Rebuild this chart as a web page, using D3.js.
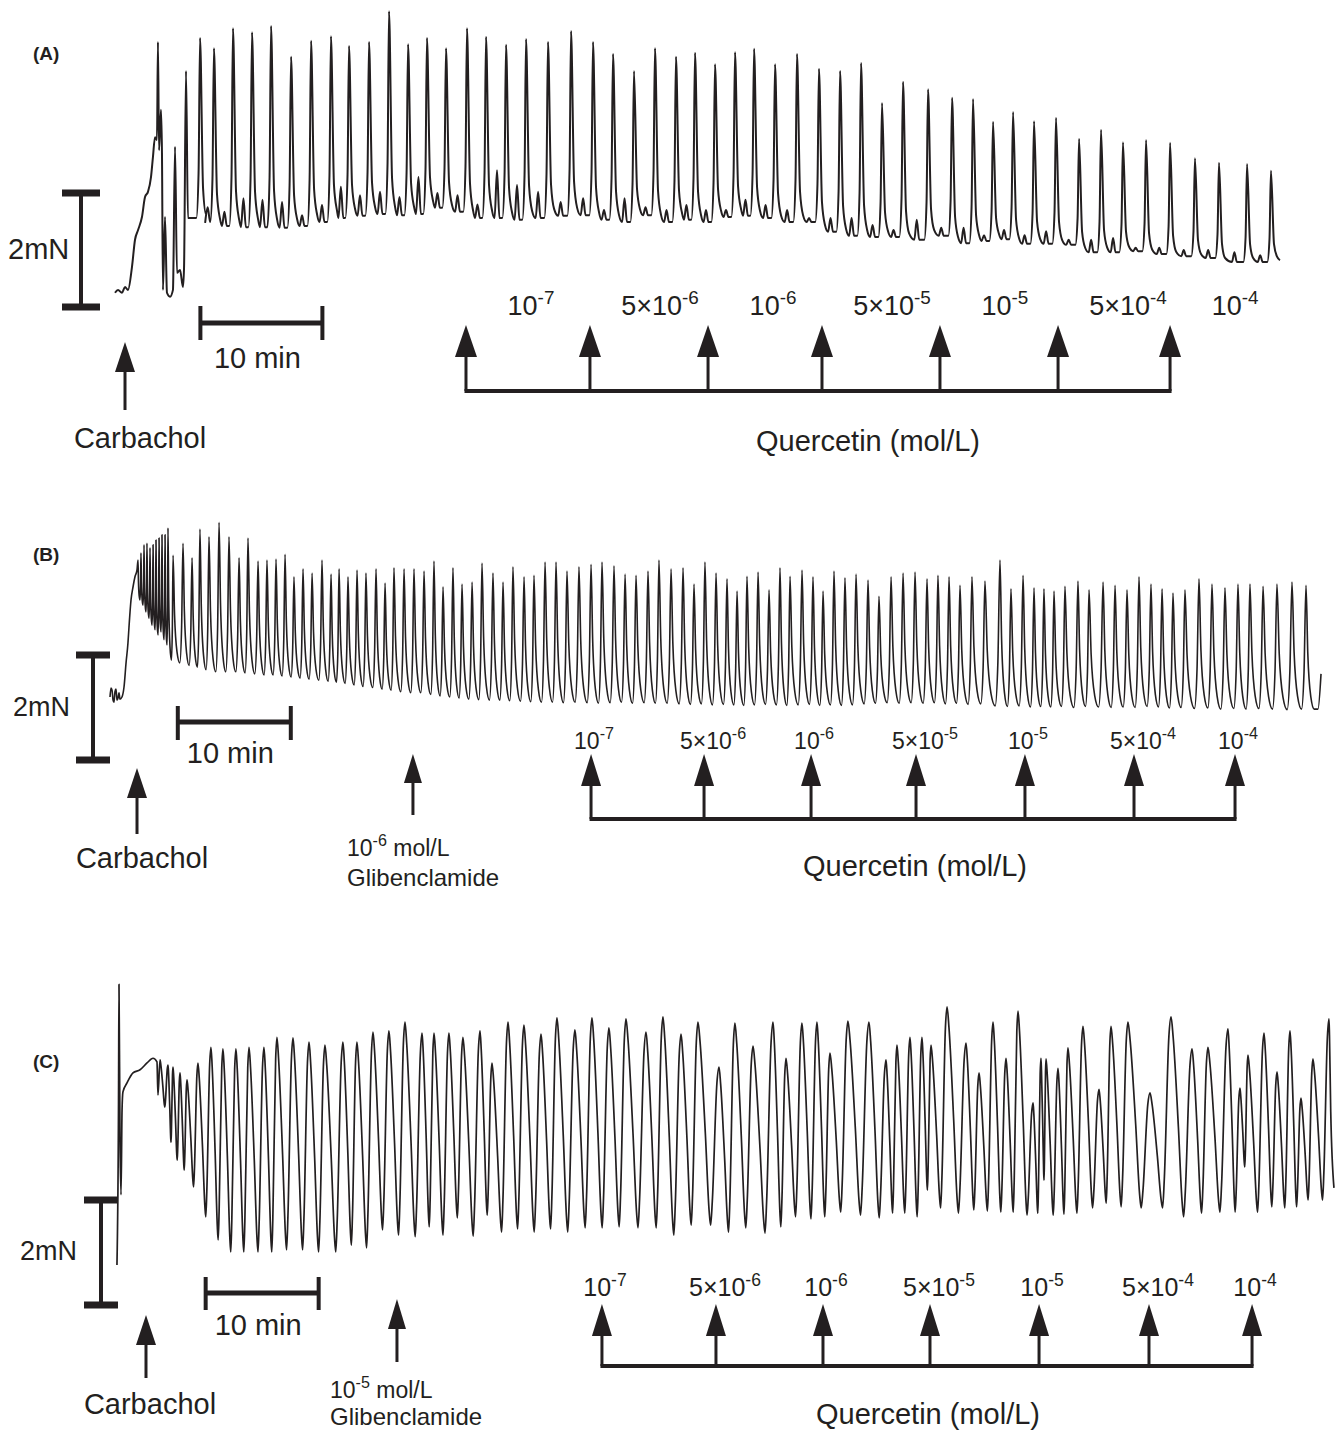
<!DOCTYPE html>
<html>
<head>
<meta charset="utf-8">
<title>Quercetin tension recordings</title>
<script src="https://cdn.jsdelivr.net/npm/d3@7"></script>
<style>
  body { margin: 0; background: #fff; }
  svg text { font-family: "Liberation Sans", Arial, Helvetica, sans-serif; fill: #231f20; white-space: pre; }
</style>
</head>
<body>
<svg id="fig" width="1339" height="1433"></svg>
<script>
// time in min, force in mN measured from the foot of each 2 mN bar

const PANEL_NAMES = ['(A)', '(B)', '(C)'];
const QUERCETIN_LABELS = [['10', '-7'], ['5×10', '-6'], ['10', '-6'], ['5×10', '-5'], ['10', '-5'], ['5×10', '-4'], ['10', '-4']];
const CARBACHOL_T = [0.82, 2.39, 2.92];
const GLIBENCLAMIDE_T = [null, 26.81, 25.13];
const GLIBENCLAMIDE_EXP = [null, '-6', '-5'];
const QUER_A = [28.77, 38.93, 48.61, 57.95, 67.62, 77.30, 86.48];
const QUER_B = [42.57, 52.57, 62.04, 71.33, 80.97, 90.62, 99.56];
const QUER_C = [43.27, 53.36, 62.83, 72.30, 81.95, 91.68, 100.80];

// (A) carbachol alone
const A_ONSET = [[0, 0.25], [0.25, 0.30], [0.57, 0.25], [0.82, 0.35], [1.07, 0.30], [1.39, 0.70], [1.64, 1.18], [1.89, 1.35],
  [2.21, 1.58], [2.46, 1.93], [2.70, 2.02], [2.95, 2.28], [3.11, 2.63], [3.28, 2.98], [3.44, 2.93], [3.52, 4.65], [3.61, 2.75],
  [3.77, 3.46], [3.85, 2.70], [3.93, 0.30], [4.10, 1.58], [4.26, 0.25], [4.51, 0.18], [4.75, 0.30], [4.92, 2.81], [5.08, 0.60],
  [5.33, 0.65], [5.57, 0.35], [5.66, 0.70], [5.82, 4.14], [5.98, 1.56], [6.31, 1.56], [6.67, 1.56], [6.85, 2.35]];
const A_T = [6.97, 8.11, 9.67, 11.23, 12.79, 14.43, 16.07, 17.70, 19.18, 20.82, 22.46, 24.02, 25.57, 27.13, 28.85, 30.41,
  32.05, 33.69, 35.49, 37.38, 39.18, 40.82, 42.54, 44.26, 45.98, 47.54, 49.18, 50.82, 52.38, 54.10, 55.90, 57.70, 59.43,
  61.15, 62.87, 64.59, 66.64, 68.61, 70.33, 71.97, 73.61, 75.33, 77.13, 79.02, 80.82, 82.62, 84.51, 86.48, 88.52, 90.49,
  92.79, 94.75];
const A_PEAK = [4.72, 4.54, 4.89, 4.82, 4.93, 4.39, 4.67, 4.75, 4.58, 4.65, 5.19, 4.61, 4.72, 4.54, 4.89, 4.74, 4.60, 4.70,
  4.65, 4.84, 4.65, 4.44, 4.14, 4.54, 4.39, 4.46, 4.26, 4.47, 4.53, 4.26, 4.44, 4.18, 4.14, 4.28, 3.58, 3.95, 3.82, 3.67,
  3.65, 3.25, 3.42, 3.26, 3.32, 2.95, 3.11, 2.89, 2.93, 2.88, 2.61, 2.53, 2.51, 2.39];
const A_TROUGH = [1.49, 1.42, 1.40, 1.40, 1.39, 1.42, 1.49, 1.56, 1.60, 1.63, 1.61, 1.63, 1.74, 1.67, 1.56, 1.56, 1.53,
  1.56, 1.60, 1.61, 1.53, 1.49, 1.61, 1.49, 1.53, 1.49, 1.58, 1.60, 1.56, 1.49, 1.49, 1.32, 1.25, 1.23, 1.23, 1.18, 1.25,
  1.12, 1.16, 1.19, 1.11, 1.11, 1.09, 0.96, 0.96, 0.98, 0.93, 0.89, 0.86, 0.79, 0.79];
const A_BUMP = [1.75, 1.67, 1.91, 1.88, 1.84, 1.61, 1.79, 2.11, 1.96, 2.02, 1.93, 2.28, 2.00, 1.96, 1.80, 2.40, 2.14, 2.02,
  1.84, 1.91, 1.70, 1.91, 1.75, 1.70, 1.79, 1.70, 1.70, 1.88, 1.79, 1.70, 1.56, 1.56, 1.56, 1.44, 1.35, 1.53, 1.39, 1.39,
  1.26, 1.35, 1.26, 1.33, 1.18, 1.18, 1.21, 1.04, 1.04, 1.00, 1.00, 0.96, 0.91];
const A_TAIL = [[95.49, 0.82]];

// (B) glibenclamide 1 µmol/L
const B_ONSET = [[0, 1.20], [0.09, 1.37], [0.18, 1.33], [0.27, 1.14], [0.35, 1.10], [0.44, 1.30], [0.53, 1.35], [0.62, 1.14],
  [0.71, 1.18], [0.80, 1.28], [0.88, 1.16], [1.06, 1.20], [1.24, 1.39], [1.42, 1.85], [1.59, 2.23], [1.68, 2.53],
  [1.86, 3.05], [2.04, 3.30], [2.21, 3.49], [2.39, 3.62]];
const B_T = [2.48, 2.74, 3.01, 3.27, 3.54, 3.81, 4.07, 4.34, 4.60, 4.87,
  5.13, 5.58, 6.46, 7.26, 7.96, 8.76, 9.65, 10.53, 11.42, 12.21, 13.10, 13.89, 14.69, 15.49, 16.28, 17.08, 17.88, 18.76,
  19.56, 20.27, 21.06, 21.86, 22.65, 23.54, 24.34, 25.13, 26.02, 26.90, 27.79, 28.67, 29.47, 30.35, 31.15, 32.04, 32.92,
  33.89, 34.78, 35.66, 36.64, 37.52, 38.50, 39.47, 40.44, 41.50, 42.57, 43.54, 44.60, 45.58, 46.55, 47.61, 48.58, 49.65,
  50.71, 51.68, 52.65, 53.63, 54.60, 55.49, 56.37, 57.35, 58.32, 59.29, 60.18, 61.24, 62.21, 63.10, 64.07, 65.04, 66.02,
  67.08, 68.05, 69.12, 70.18, 71.24, 72.30, 73.27, 74.25, 75.22, 76.28, 77.43, 78.76, 79.73, 80.80, 81.77, 82.65, 83.54,
  84.51, 85.66, 86.64, 87.88, 88.94, 90.00, 91.06, 92.12, 93.10, 94.07, 95.13, 96.37, 97.52, 98.67, 99.82, 100.88,
  102.04, 103.27, 104.60, 105.84];
const B_PEAK = [3.81, 3.94, 4.10, 4.13, 4.04, 4.10, 4.19, 4.23, 4.29, 4.29,
  4.42, 3.90, 4.13, 3.85, 4.40, 4.25, 4.53, 4.25, 3.85, 4.23, 3.79, 3.81, 3.83, 3.92, 3.49, 3.64, 3.56, 3.81, 3.54, 3.64,
  3.49, 3.62, 3.56, 3.64, 3.37, 3.66, 3.64, 3.64, 3.60, 3.79, 3.30, 3.66, 3.35, 3.39, 3.75, 3.56, 3.39, 3.68, 3.49, 3.52,
  3.77, 3.77, 3.60, 3.68, 3.73, 3.77, 3.70, 3.54, 3.52, 3.60, 3.81, 3.64, 3.66, 3.35, 3.77, 3.56, 3.45, 3.22, 3.50, 3.58,
  3.24, 3.66, 3.50, 3.62, 3.49, 3.22, 3.60, 3.47, 3.54, 3.43, 3.12, 3.49, 3.56, 3.58, 3.45, 3.52, 3.49, 3.33, 3.49, 3.41,
  3.81, 3.26, 3.52, 3.28, 3.26, 3.22, 3.31, 3.41, 3.24, 3.39, 3.33, 3.24, 3.49, 3.35, 3.26, 3.18, 3.24, 3.45, 3.35, 3.28,
  3.35, 3.35, 3.31, 3.35, 3.39, 3.33];
const B_TROUGH = [3.05, 2.95, 2.82, 2.70, 2.57, 2.48, 2.38, 2.44, 2.29, 2.19,
  1.90, 1.85, 1.80, 1.77, 1.72, 1.68, 1.68, 1.68, 1.66, 1.64, 1.62, 1.62, 1.60, 1.58, 1.56, 1.54, 1.52, 1.50, 1.48, 1.46,
  1.43, 1.40, 1.38, 1.35, 1.33, 1.30, 1.28, 1.28, 1.25, 1.22, 1.20, 1.18, 1.16, 1.15, 1.14, 1.14, 1.13, 1.12, 1.11, 1.10,
  1.10, 1.09, 1.10, 1.09, 1.08, 1.09, 1.10, 1.08, 1.09, 1.08, 1.08, 1.07, 1.06, 1.07, 1.05, 1.06, 1.05, 1.04, 1.05, 1.06,
  1.05, 1.04, 1.05, 1.06, 1.04, 1.05, 1.04, 1.05, 1.07, 1.08, 1.09, 1.08, 1.09, 1.08, 1.09, 1.07, 1.08, 1.06, 1.07, 1.03,
  1.02, 1.03, 1.01, 1.02, 1.01, 1.02, 1.00, 1.02, 1.01, 1.00, 1.01, 1.00, 1.02, 1.01, 0.99, 1.00, 0.98, 0.99, 0.97, 0.98,
  0.97, 0.98, 0.97, 0.96, 0.97];
const B_TAIL = [[106.90, 0.97], [107.17, 1.64]];

// (C) glibenclamide 10 µmol/L
const C_ONSET = [[0.35, 0.76], [0.49, 3.90], [0.53, 6.11], [0.62, 3.14], [0.71, 2.10], [0.80, 3.71], [0.88, 4.06],
  [1.24, 4.23], [1.77, 4.42], [2.39, 4.48], [3.01, 4.61], [3.54, 4.70], [3.89, 4.63], [3.98, 4.00]];
const C_T = [4.16, 4.87, 5.31, 5.93, 6.55, 7.52, 8.67, 9.73, 10.88, 12.04, 13.36, 14.51, 15.93, 17.35, 18.76, 20.35, 21.59,
  23.01, 24.42, 25.84, 27.35, 28.41, 29.73, 30.97, 32.48, 33.54, 34.96, 36.37, 37.88, 39.29, 40.88, 42.39, 43.89, 45.40,
  47.17, 48.67, 50.27, 51.77, 53.63, 55.04, 56.64, 58.41, 59.56, 60.97, 62.30, 63.45, 65.04, 66.90, 68.41, 69.38, 70.53,
  71.59, 72.39, 73.81, 75.49, 76.64, 77.88, 79.03, 80.09, 81.42, 82.12, 82.57, 83.63, 84.51, 85.84, 87.26, 88.32, 89.82,
  91.77, 93.63, 95.49, 96.90, 98.67, 99.73, 100.44, 101.86, 103.01, 104.16, 105.13, 106.19, 107.61];
const C_PEAK = [4.67, 4.57, 4.53, 4.42, 4.29, 4.61, 4.91, 4.88, 4.88, 4.91, 4.91, 5.10, 5.09, 5.01, 4.95, 5.01, 5.01, 5.20,
  5.22, 5.39, 5.18, 5.18, 5.18, 5.10, 5.22, 4.61, 5.39, 5.33, 5.16, 5.47, 5.24, 5.47, 5.28, 5.45, 5.20, 5.49, 5.16, 5.39,
  4.53, 5.37, 4.93, 5.39, 4.70, 5.37, 5.39, 4.80, 5.41, 5.39, 4.67, 4.95, 5.10, 5.10, 4.95, 5.68, 4.99, 4.42, 5.39, 4.70,
  5.60, 3.85, 4.70, 4.69, 4.51, 4.90, 5.31, 4.11, 5.31, 5.39, 4.04, 5.49, 4.88, 4.91, 5.26, 4.13, 4.76, 5.18, 4.44, 5.22,
  3.94, 4.69, 5.45];
const C_TROUGH = [3.77, 3.10, 2.76, 2.57, 2.25, 1.68, 1.24, 1.01, 1.01, 1.01, 1.01, 1.05, 1.05, 1.01, 1.01, 1.14, 1.09,
  1.43, 1.33, 1.30, 1.49, 1.33, 1.66, 1.31, 1.71, 1.39, 1.45, 1.39, 1.45, 1.39, 1.47, 1.47, 1.49, 1.47, 1.47, 1.33, 1.52,
  1.52, 1.39, 1.47, 1.37, 1.49, 1.68, 1.64, 1.68, 1.77, 1.71, 1.66, 1.75, 1.75, 1.68, 2.19, 1.85, 1.75, 1.81, 1.79, 1.77,
  1.77, 1.71, 1.75, 2.38, 1.71, 1.73, 1.75, 1.85, 1.94, 1.87, 1.85, 1.85, 1.68, 1.75, 1.77, 1.77, 2.63, 1.77, 1.87, 1.85,
  1.87, 2.00, 2.00];
const C_TAIL = [[108.05, 2.23]];

const INK = '#231f20';
const svg = d3.select('#fig');
svg.append('rect').attr('width', 1339).attr('height', 1433).attr('fill', '#fff');

// waveform outline of one contraction, from peak i down to the trough and up toward peak i+1
const shapes = {
  spike(pts, t, p, tn, nb, pn, bump, last) {
    const amp = p - nb;
    pts.push([t + 0.25, nb + 0.18 * amp]);
    pts.push([t + 0.5, nb + 0.04 * amp]);
    if (last) return;
    if (bump != null) {
      const tm = t + 0.55 * (tn - t);
      pts.push([tm - 0.2, nb], [tm, bump], [tm + 0.2, nb]);
    }
    pts.push([tn - 0.3, nb]);
    pts.push([tn - 0.12, nb + 0.25 * (pn - nb)]);
  },
  phasic(pts, t, p, tn, nb, pn, bump, last) {
    const d = tn - t, amp = p - nb;
    pts.push([t + 0.15 * d, nb + 0.45 * amp]);
    pts.push([t + 0.4 * d, nb + 0.1 * amp]);
    pts.push([t + 0.68 * d, nb]);
    if (last) return;
    pts.push([t + 0.86 * d, nb + 0.3 * (pn - nb)]);
  },
  wave(pts, t, p, tn, nb, pn, bump, last) {
    const d = tn - t, amp = p - nb;
    pts.push([t + 0.1 * d, p - 0.1 * amp]);
    pts.push([t + 0.35 * d, nb + 0.45 * amp]);
    if (last) return;
    pts.push([t + 0.53 * d, nb + 0.07 * amp]);
    pts.push([t + 0.6 * d, nb]);
    const ampN = pn - nb;
    pts.push([t + 0.68 * d, nb + 0.15 * ampN]);
    pts.push([t + 0.9 * d, pn - 0.1 * ampN]);
  }
};

function buildTrace(tr) {
  const pts = tr.onset.map(d => d.slice());
  const n = tr.times.length;
  tr.times.forEach((t, i) => {
    const last = i === n - 1;
    pts.push([t, tr.peaks[i]]);
    tr.shape(pts, t, tr.peaks[i],
      last ? tr.tail[0][0] : tr.times[i + 1],
      last ? tr.tail[0][1] : tr.troughs[i],
      last ? null : tr.peaks[i + 1],
      tr.bumps ? tr.bumps[i] : null, last);
  });
  tr.tail.forEach(d => pts.push(d.slice()));
  return pts;
}

function arrow(g, x, tip, base, bottom, w, sw) {
  g.append('path')
    .attr('d', `M${x},${tip}L${x + w / 2},${base}L${x - w / 2},${base}Z`)
    .attr('fill', INK);
  g.append('line')
    .attr('x1', x).attr('x2', x)
    .attr('y1', base - 1).attr('y2', bottom)
    .attr('stroke', INK).attr('stroke-width', sw);
}

function powerText(g, x, y, base, exp, size, anchor) {
  const t = g.append('text').attr('x', x).attr('y', y)
    .attr('text-anchor', anchor || 'middle').style('font-size', size + 'px');
  t.append('tspan').text(base);
  t.append('tspan').attr('dy', -size * 0.42).style('font-size', (size * 0.7) + 'px').text(exp);
  return t;
}

const panels = [
  {
    x: d3.scaleLinear().domain([0, 100]).range([115, 115 + 1220]),
    y: d3.scaleLinear().domain([0, 2]).range([307, 193]),
    trace: { onset: A_ONSET, times: A_T, peaks: A_PEAK, troughs: A_TROUGH, bumps: A_BUMP, tail: A_TAIL, shape: shapes.spike, width: 2 },
    nameY: 60,
    bar: { x: 81, half: 19, textX: 8, textY: 259, size: 29 },
    minBar: { t0: 7, y: 323, top: 306, bottom: 340, textY: 368 },
    carb: { tip: 342, base: 372, bottom: 410, dx: 15, textY: 448 },
    quer: { times: QUER_A, tip: 325, base: 357, line: 391, w: 22, labelY: 315, size: 27, dx: lab => lab[0].length > 2 ? 70 : 65, titleX: 868, titleY: 451 }
  },
  {
    x: d3.scaleLinear().domain([0, 100]).range([110, 110 + 1130]),
    y: d3.scaleLinear().domain([0, 2]).range([760, 655]),
    trace: { onset: B_ONSET, times: B_T, peaks: B_PEAK, troughs: B_TROUGH, tail: B_TAIL, shape: shapes.phasic, width: 1.6 },
    nameY: 561,
    bar: { x: 93, half: 17, textX: 13, textY: 716, size: 27 },
    minBar: { t0: 6, y: 722, top: 706, bottom: 740, textY: 763 },
    carb: { tip: 768, base: 798, bottom: 834, dx: 5, textY: 868 },
    glib: { tip: 754, base: 783, bottom: 815, textX: 347, y1: 856, y2: 886 },
    quer: { times: QUER_B, tip: 754, base: 786, line: 819, w: 20, labelY: 749, size: 23, dx: lab => lab[0].length > 2 ? 9 : 3, titleX: 915, titleY: 876 }
  },
  {
    x: d3.scaleLinear().domain([0, 100]).range([113, 113 + 1130]),
    y: d3.scaleLinear().domain([0, 2]).range([1305, 1200]),
    trace: { onset: C_ONSET, times: C_T, peaks: C_PEAK, troughs: C_TROUGH, tail: C_TAIL, shape: shapes.wave, width: 1.7 },
    nameY: 1068,
    bar: { x: 101, half: 17, textX: 20, textY: 1260, size: 27 },
    minBar: { t0: 8.2, y: 1293, top: 1277, bottom: 1310, textY: 1335 },
    carb: { tip: 1315, base: 1345, bottom: 1378, dx: 4, textY: 1414 },
    glib: { tip: 1299, base: 1329, bottom: 1362, textX: 330, y1: 1398, y2: 1425 },
    quer: { times: QUER_C, tip: 1304, base: 1336, line: 1366, w: 20, labelY: 1296, size: 25, dx: lab => lab[0].length > 2 ? 9 : 3, titleX: 928, titleY: 1424 }
  }
];

panels.forEach((P, k) => {
  const g = svg.append('g').attr('class', 'panel');
  const x = P.x, y = P.y;

  g.append('text').attr('x', 33).attr('y', P.nameY)
    .style('font-size', '19px').style('font-weight', 'bold').text(PANEL_NAMES[k]);

  // 2 mN calibration
  const b = P.bar;
  g.append('line').attr('x1', b.x).attr('x2', b.x).attr('y1', y(0)).attr('y2', y(2))
    .attr('stroke', INK).attr('stroke-width', 4);
  [0, 2].forEach(v => {
    g.append('line').attr('x1', b.x - b.half).attr('x2', b.x + b.half).attr('y1', y(v)).attr('y2', y(v))
      .attr('stroke', INK).attr('stroke-width', 7);
  });
  g.append('text').attr('x', b.textX).attr('y', b.textY).style('font-size', b.size + 'px').text('2mN');

  // 10 min calibration
  const m = P.minBar;
  const m0 = x(m.t0), m1 = x(m.t0 + 10);
  g.append('line').attr('x1', m0).attr('x2', m1).attr('y1', m.y).attr('y2', m.y)
    .attr('stroke', INK).attr('stroke-width', 5);
  [m0, m1].forEach(xx => {
    g.append('line').attr('x1', xx).attr('x2', xx).attr('y1', m.top).attr('y2', m.bottom)
      .attr('stroke', INK).attr('stroke-width', 4);
  });
  g.append('text').attr('x', (m0 + m1) / 2 - 4).attr('y', m.textY)
    .attr('text-anchor', 'middle').style('font-size', '29px').text('10 min');

  // carbachol
  const c = P.carb, cx = x(CARBACHOL_T[k]);
  arrow(g, cx, c.tip, c.base, c.bottom, 20, 3);
  g.append('text').attr('x', cx + c.dx).attr('y', c.textY)
    .attr('text-anchor', 'middle').style('font-size', '29px').text('Carbachol');

  // glibenclamide
  if (P.glib) {
    const gl = P.glib, gx = x(GLIBENCLAMIDE_T[k]);
    arrow(g, gx, gl.tip, gl.base, gl.bottom, 18, 3);
    const t = powerText(g, gl.textX, gl.y1, '10', GLIBENCLAMIDE_EXP[k], 23, 'start');
    t.append('tspan').attr('dy', 23 * 0.42).text(' mol/L');
    g.append('text').attr('x', gl.textX).attr('y', gl.y2).style('font-size', '24px').text('Glibenclamide');
  }

  // quercetin cumulative additions
  const q = P.quer;
  const qx = q.times.map(x);
  g.append('line').attr('x1', qx[0] - 1.5).attr('x2', qx[qx.length - 1] + 1.5).attr('y1', q.line).attr('y2', q.line)
    .attr('stroke', INK).attr('stroke-width', 4);
  qx.forEach((xx, i) => {
    arrow(g, xx, q.tip, q.base, q.line, q.w, 3);
    const lab = QUERCETIN_LABELS[i];
    powerText(g, xx + q.dx(lab), q.labelY, lab[0], lab[1], q.size);
  });
  g.append('text').attr('x', q.titleX).attr('y', q.titleY)
    .attr('text-anchor', 'middle').style('font-size', '29px').text('Quercetin (mol/L)');

  // tension trace
  const pts = buildTrace(P.trace);
  const line = d3.line().x(d => x(d[0])).y(d => y(d[1])).curve(d3.curveMonotoneX);
  g.append('path').datum(pts)
    .attr('d', line)
    .attr('fill', 'none')
    .attr('stroke', INK)
    .attr('stroke-width', P.trace.width)
    .attr('stroke-linejoin', 'round');
});
</script>
</body>
</html>
